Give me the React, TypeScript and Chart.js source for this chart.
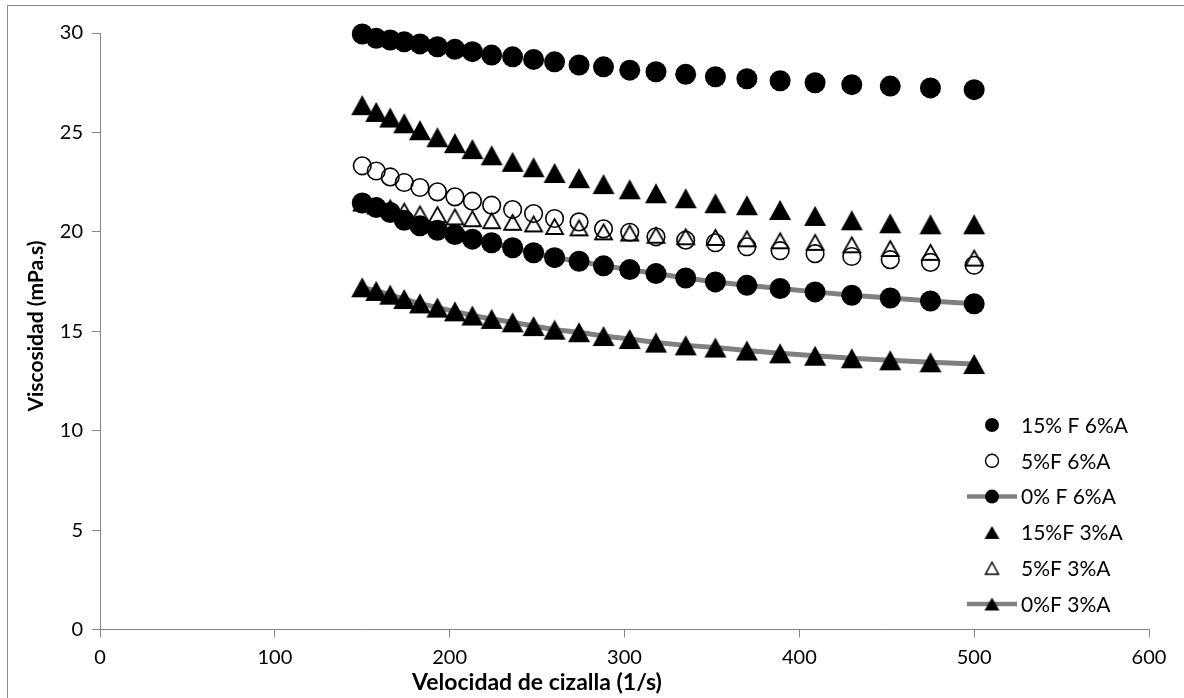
import React, { useEffect, useRef } from "react";
import { Chart, registerables } from "chart.js";

Chart.register(...registerables);

// Shear rate (1/s) — x positions of the measured points
const shearRate = [150, 158, 166, 174, 183, 193, 203, 213, 224, 236, 248, 260, 274, 288, 303, 318, 335, 352, 370, 389, 409, 430, 452, 475, 500];

// Viscosity (mPa.s)
const f15a6 = [29.95, 29.73, 29.65, 29.56, 29.45, 29.31, 29.18, 29.06, 28.89, 28.8, 28.67, 28.55, 28.39, 28.3, 28.13, 28.05, 27.92, 27.8, 27.7, 27.6, 27.5, 27.4, 27.33, 27.24, 27.15];
const f5a6 = [23.32, 23.06, 22.76, 22.48, 22.23, 22.01, 21.76, 21.54, 21.34, 21.12, 20.92, 20.67, 20.5, 20.15, 19.98, 19.75, 19.58, 19.45, 19.25, 19.05, 18.9, 18.76, 18.6, 18.46, 18.32];
const f0a6 = [21.45, 21.22, 20.97, 20.58, 20.3, 20.08, 19.86, 19.63, 19.45, 19.2, 18.95, 18.7, 18.52, 18.29, 18.1, 17.9, 17.68, 17.48, 17.31, 17.15, 16.98, 16.81, 16.67, 16.52, 16.38];
const f15a3 = [26.37, 26.03, 25.75, 25.46, 25.11, 24.76, 24.46, 24.16, 23.85, 23.52, 23.25, 22.96, 22.7, 22.4, 22.14, 21.94, 21.69, 21.44, 21.34, 21.1, 20.8, 20.58, 20.43, 20.38, 20.38];
const f5a3 = [21.45, 21.3, 21.2, 21.04, 20.9, 20.87, 20.75, 20.66, 20.56, 20.48, 20.4, 20.27, 20.2, 20.0, 19.94, 19.83, 19.75, 19.72, 19.65, 19.55, 19.47, 19.35, 19.16, 18.97, 18.68];
const f0a3 = [17.21, 17.03, 16.84, 16.62, 16.4, 16.19, 16.0, 15.79, 15.62, 15.45, 15.26, 15.08, 14.95, 14.76, 14.61, 14.43, 14.29, 14.18, 14.03, 13.89, 13.77, 13.64, 13.54, 13.44, 13.35];

const seriesLabels = ["15% F 6%A", "5%F 6%A", "0% F 6%A", "15%F 3%A", "5%F 3%A", "0%F 3%A"];

const xTicks = [0, 100, 200, 300, 400, 500, 600];
const yTicks = [0, 5, 10, 15, 20, 25, 30];

const xTitle = "Velocidad de cizalla (1/s)";
const yTitle = "Viscosidad (mPa.s)";

const FONT = "Lato, 'Open Sans', sans-serif";
const AXIS_GRAY = "#868686";

function makeTriangle(w: number, h: number, filled: boolean, lw: number) {
  const pad = Math.ceil(lw) + 1;
  const c = document.createElement("canvas");
  c.width = Math.round(w + pad * 2);
  c.height = Math.round(h + pad * 2);
  const ctx = c.getContext("2d")!;
  const ox = (c.width - w) / 2;
  const oy = (c.height - h) / 2;
  ctx.beginPath();
  ctx.moveTo(ox + w / 2, oy);
  ctx.lineTo(ox + w, oy + h);
  ctx.lineTo(ox, oy + h);
  ctx.closePath();
  if (filled) {
    ctx.fillStyle = "#000";
    ctx.fill();
  } else {
    ctx.strokeStyle = "#000";
    ctx.lineWidth = lw;
    ctx.stroke();
  }
  return c;
}

function toPoints(ys: number[]) {
  return shearRate.map((x, i) => ({ x, y: ys[i] }));
}

export default function App() {
  const ref = useRef<HTMLCanvasElement | null>(null);

  useEffect(() => {
    const canvas = ref.current;
    if (!canvas) return;

    const triFilled = makeTriangle(22, 20, true, 1);
    const triOpen = makeTriangle(17, 15, false, 1.8);
    const triFilledLegend = makeTriangle(15, 13, true, 1);
    const triOpenLegend = makeTriangle(13, 12, false, 1.5);

    const legendStyles = [
      { kind: "circle", filled: true, r: 7, line: false },
      { kind: "circle", filled: false, r: 6.5, line: false },
      { kind: "circle", filled: true, r: 7, line: true },
      { kind: "tri", img: triFilledLegend, line: false },
      { kind: "tri", img: triOpenLegend, line: false },
      { kind: "tri", img: triFilledLegend, line: true },
    ];

    const legendPlugin = {
      id: "customLegend",
      afterDraw(chart: any) {
        const ctx = chart.ctx;
        const markerX = 992;
        const textX = 1021;
        const y0 = 425;
        const dy = 35.8;
        ctx.save();
        seriesLabels.forEach((label, i) => {
          const y = y0 + i * dy;
          const st: any = legendStyles[i];
          if (st.line) {
            ctx.beginPath();
            ctx.strokeStyle = "#808080";
            ctx.lineWidth = 4.5;
            ctx.moveTo(967, y);
            ctx.lineTo(1017, y);
            ctx.stroke();
          }
          if (st.kind === "circle") {
            ctx.beginPath();
            ctx.arc(markerX, y, st.r, 0, Math.PI * 2);
            if (st.filled) {
              ctx.fillStyle = "#000";
              ctx.fill();
            } else {
              ctx.strokeStyle = "#000";
              ctx.lineWidth = 1.4;
              ctx.stroke();
            }
          } else {
            ctx.drawImage(st.img, markerX - st.img.width / 2, y - st.img.height / 2);
          }
          ctx.fillStyle = "#000";
          ctx.font = `21px ${FONT}`;
          ctx.textAlign = "left";
          ctx.textBaseline = "middle";
          ctx.fillText(label, textX, y + 1);
        });
        ctx.restore();
      },
    };

    const titlePlugin = {
      id: "axisTitles",
      afterDraw(chart: any) {
        const ctx = chart.ctx;
        ctx.save();
        ctx.fillStyle = "#000";
        ctx.textAlign = "center";
        ctx.textBaseline = "middle";
        ctx.font = `bold 23px ${FONT}`;
        ctx.fillText(xTitle, 537, 683);
        ctx.translate(36, 326);
        ctx.rotate(-Math.PI / 2);
        ctx.font = `bold 21px ${FONT}`;
        ctx.fillText(yTitle, 0, 0);
        ctx.restore();
      },
    };

    const chart = new Chart(canvas, {
      type: "scatter",
      data: {
        datasets: [
          {
            label: seriesLabels[0],
            data: toPoints(f15a6),
            showLine: false,
            clip: false,
            pointStyle: "circle",
            pointRadius: 10.5,
            pointBackgroundColor: "#000",
            pointBorderColor: "#000",
            pointBorderWidth: 0,
          },
          {
            label: seriesLabels[1],
            data: toPoints(f5a6),
            showLine: false,
            clip: false,
            pointStyle: "circle",
            pointRadius: 8.8,
            pointBackgroundColor: "rgba(0,0,0,0)",
            pointBorderColor: "#000",
            pointBorderWidth: 1.6,
          },
          {
            label: seriesLabels[2],
            data: toPoints(f0a6),
            showLine: true,
            clip: false,
            borderColor: "#808080",
            borderWidth: 5,
            tension: 0,
            pointStyle: "circle",
            pointRadius: 10.5,
            pointBackgroundColor: "#000",
            pointBorderColor: "#000",
            pointBorderWidth: 0,
          },
          {
            label: seriesLabels[3],
            data: toPoints(f15a3),
            showLine: false,
            clip: false,
            pointStyle: triFilled as any,
            pointRadius: 10,
          },
          {
            label: seriesLabels[4],
            data: toPoints(f5a3),
            showLine: false,
            clip: false,
            pointStyle: triOpen as any,
            pointRadius: 8,
          },
          {
            label: seriesLabels[5],
            data: toPoints(f0a3),
            showLine: true,
            clip: false,
            borderColor: "#808080",
            borderWidth: 5,
            tension: 0,
            pointStyle: triFilled as any,
            pointRadius: 10,
          },
        ],
      },
      options: {
        animation: false,
        responsive: false,
        devicePixelRatio: 1,
        events: [],
        layout: { padding: { left: 0, top: 33, right: 35, bottom: 0 } },
        plugins: {
          legend: { display: false },
          tooltip: { enabled: false },
          title: { display: false },
        },
        scales: {
          x: {
            type: "linear",
            min: xTicks[0],
            max: xTicks[xTicks.length - 1],
            afterBuildTicks: (scale: any) => {
              scale.ticks = xTicks.map((v) => ({ value: v }));
            },
            afterFit: (scale: any) => {
              scale.height = 68.5;
            },
            ticks: {
              color: "#000",
              font: { family: FONT, size: 20 },
              padding: 8,
              maxRotation: 0,
            },
            grid: {
              display: true,
              drawOnChartArea: false,
              drawTicks: true,
              tickLength: 8,
              color: AXIS_GRAY,
              lineWidth: 1,
            },
            border: { display: true, color: AXIS_GRAY, width: 1 },
          },
          y: {
            type: "linear",
            min: yTicks[0],
            max: yTicks[yTicks.length - 1],
            afterBuildTicks: (scale: any) => {
              scale.ticks = yTicks.map((v) => ({ value: v }));
            },
            afterFit: (scale: any) => {
              scale.width = 100;
            },
            ticks: {
              color: "#000",
              font: { family: FONT, size: 20 },
              padding: 9,
            },
            grid: {
              display: true,
              drawOnChartArea: false,
              drawTicks: true,
              tickLength: 8,
              color: AXIS_GRAY,
              lineWidth: 1,
            },
            border: { display: true, color: AXIS_GRAY, width: 1 },
          },
        },
      },
      plugins: [legendPlugin, titlePlugin],
    } as any);

    return () => {
      chart.destroy();
    };
  }, []);

  return (
    <div>
      <div
        style={{
          position: "fixed",
          left: 7,
          top: 5,
          width: 1300,
          height: 800,
          border: "1px solid #8a8a8a",
          boxSizing: "border-box",
          pointerEvents: "none",
        }}
      />
      <canvas
        ref={ref}
        width={1184}
        height={698}
        style={{ position: "fixed", left: 0, top: 0, width: 1184, height: 698 }}
      />
    </div>
  );
}
